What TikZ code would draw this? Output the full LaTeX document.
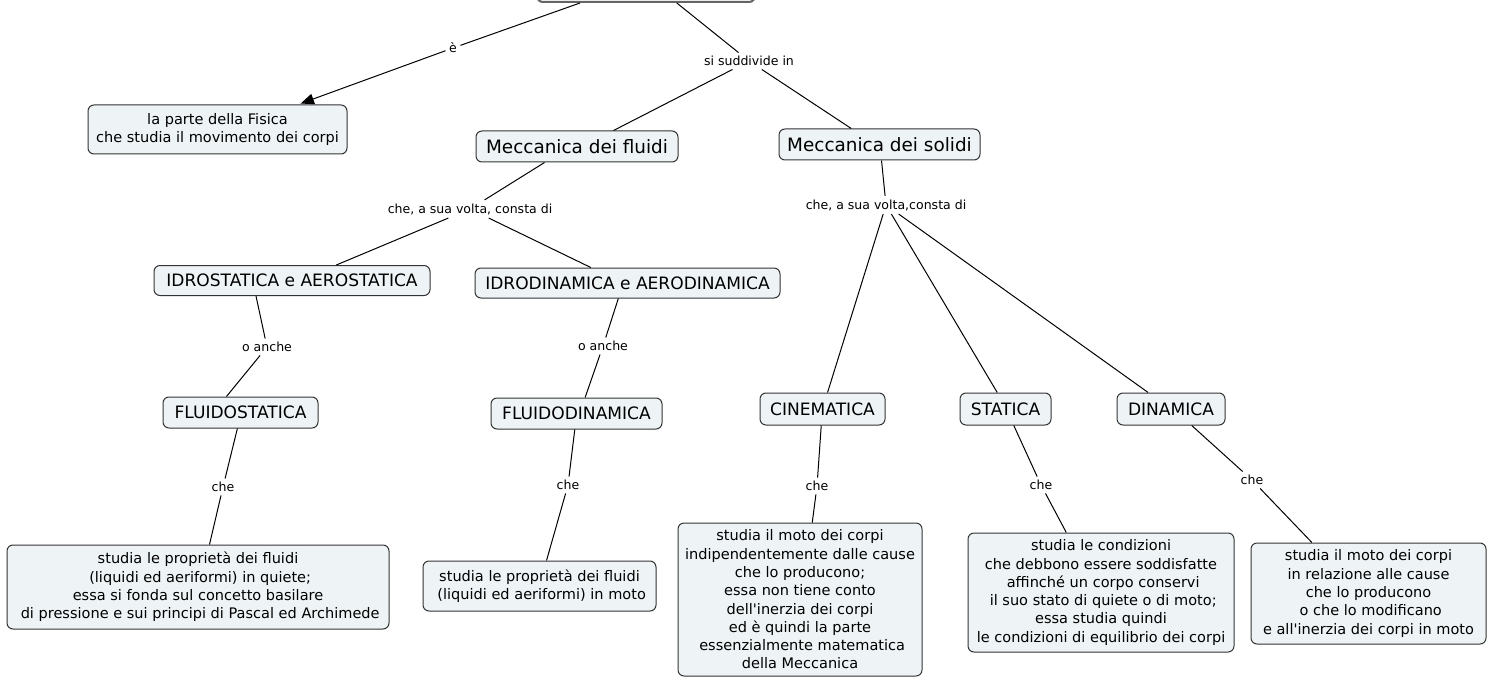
\documentclass[tikz,border=0pt]{standalone}
\usepackage{fontspec}
\setmainfont{DejaVu Sans}[Ligatures=TeXOff]
\usetikzlibrary{calc,arrows.meta}
\definecolor{boxfill}{RGB}{238,244,246}
\definecolor{boxline}{RGB}{51,51,51}
\definecolor{topline}{RGB}{100,100,100}
\begin{document}
\begin{tikzpicture}[x=0.75pt,y=-0.75pt,
 box/.style={draw=boxline,fill=boxfill,rounded corners=4.5pt,line width=0.75pt,align=center,inner sep=0pt},
 txtbox/.style={box,font=\fontsize{10.9}{13.7}\selectfont},
 capbox/.style={box,font=\fontsize{12.8}{15}\selectfont},
 bigbox/.style={box,font=\fontsize{13.8}{16}\selectfont},
 lab/.style={font=\fontsize{9.4}{11}\selectfont,inner sep=2.5pt},
 conn/.style={draw=black,line width=0.75pt}]
\useasboundingbox (0,0) rectangle (1494,677);

% top (cut off) node
\node[draw=topline,line width=1.5pt,fill=white,rounded corners=4.5pt,minimum width=163.5pt,minimum height=30pt,inner sep=0pt] (top) at (646,-18) {};

% concept boxes
\node[txtbox,minimum width=194.25pt,minimum height=36.75pt] (lapart) at (217.5,129.5) {la parte della Fisica\\che studia il movimento dei corpi};
\node[bigbox,minimum width=151.5pt,minimum height=23.25pt] (mf) at (577,146.5) {Meccanica dei fluidi};
\node[bigbox,minimum width=150.75pt,minimum height=23.25pt] (ms) at (879.5,144.5) {Meccanica dei solidi};
\node[capbox,minimum width=207pt,minimum height=22.5pt] (idro) at (292,280.5) {IDROSTATICA e AEROSTATICA};
\node[capbox,minimum width=228.75pt,minimum height=22.5pt] (idrod) at (627.5,283) {IDRODINAMICA e AERODINAMICA};
\node[capbox,minimum width=116.25pt,minimum height=23.25pt] (fls) at (240.5,412.5) {FLUIDOSTATICA};
\node[capbox,minimum width=128.25pt,minimum height=23.25pt] (fld) at (576.5,413.5) {FLUIDODINAMICA};
\node[capbox,minimum width=93.75pt,minimum height=24pt] (cin) at (822.5,409) {CINEMATICA};
\node[capbox,minimum width=68.25pt,minimum height=24pt] (stat) at (1005.5,409) {STATICA};
\node[capbox,minimum width=81pt,minimum height=24pt] (din) at (1171,409) {DINAMICA};

\node[txtbox,minimum width=286.5pt,minimum height=63pt] (fst) at (198,587) {studia le proprietà dei fluidi\\\hspace*{0.3em}(liquidi ed aeriformi) in quiete;\\essa si fonda sul concetto basilare\\\hspace*{0.3em}di pressione e sui principi di Pascal ed Archimede};
\node[txtbox,minimum width=174.75pt,minimum height=37.5pt] (fdt) at (539.5,586) {studia le proprietà dei fluidi\\\hspace*{0.3em}(liquidi ed aeriformi) in moto};
\node[txtbox,minimum width=183pt,minimum height=114.75pt] (ct) at (800,599.5) {studia il moto dei corpi\\indipendentemente dalle cause\\che lo producono;\\essa non tiene conto\\dell'inerzia dei corpi\\ed è quindi la parte\\\hspace*{0.3em}essenzialmente matematica\\della Meccanica};
\node[txtbox,minimum width=199.5pt,minimum height=89.25pt] (st) at (1101,592.5) {studia le condizioni\\che debbono essere soddisfatte\\\hspace*{0.3em}affinché un corpo conservi\\\hspace*{0.3em}il suo stato di quiete o di moto;\\essa studia quindi\\le condizioni di equilibrio dei corpi};
\node[txtbox,minimum width=176.25pt,minimum height=75.75pt] (dt) at (1368.5,593.5) {studia il moto dei corpi\\in relazione alle cause\\che lo producono\\\hspace*{0.3em}o che lo modificano\\e all'inerzia dei corpi in moto};

% linking phrases
\node[lab] (e) at (453,48) {è};
\node[lab] (si) at (749,61) {si suddivide in};
\node[lab] (cf) at (470,209) {che, a sua volta, consta di};
\node[lab] (cs) at (886,205) {che, a sua volta,consta di};
\node[lab] (oa1) at (267,347) {o anche};
\node[lab] (oa2) at (603,346) {o anche};
\node[lab] (c1) at (223,487) {che};
\node[lab] (c2) at (568,485) {che};
\node[lab] (c3) at (817,486) {che};
\node[lab] (c4) at (1041,485) {che};
\node[lab] (c5) at (1252,480) {che};

% attachment points
\coordinate (t1) at ($(top.south west)!0.2!(top.south east)$);
\coordinate (t2) at ($(top.south west)!0.64!(top.south east)$);
\coordinate (lp) at ($(lapart.north west)!0.81!(lapart.north east)$);
\coordinate (mfn) at ($(mf.north west)!0.68!(mf.north east)$);
\coordinate (msn) at ($(ms.north west)!0.36!(ms.north east)$);
\coordinate (mfs) at ($(mf.south west)!0.34!(mf.south east)$);
\coordinate (idn) at ($(idro.north west)!0.66!(idro.north east)$);
\coordinate (iddn) at ($(idrod.north west)!0.38!(idrod.north east)$);
\coordinate (mss) at ($(ms.south west)!0.51!(ms.south east)$);
\coordinate (cinn) at ($(cin.north west)!0.54!(cin.north east)$);
\coordinate (statn) at ($(stat.north west)!0.41!(stat.north east)$);
\coordinate (dinn) at ($(din.north west)!0.29!(din.north east)$);
\coordinate (ids) at ($(idro.south west)!0.37!(idro.south east)$);
\coordinate (flsn) at ($(fls.north west)!0.41!(fls.north east)$);
\coordinate (idds) at ($(idrod.south west)!0.47!(idrod.south east)$);
\coordinate (fldn) at ($(fld.north west)!0.55!(fld.north east)$);
\coordinate (flss) at ($(fls.south west)!0.48!(fls.south east)$);
\coordinate (fstn) at ($(fst.north west)!0.53!(fst.north east)$);
\coordinate (flds) at ($(fld.south west)!0.49!(fld.south east)$);
\coordinate (fdtn) at ($(fdt.north west)!0.53!(fdt.north east)$);
\coordinate (cins) at ($(cin.south west)!0.49!(cin.south east)$);
\coordinate (ctn) at ($(ct.north west)!0.55!(ct.north east)$);
\coordinate (stats) at ($(stat.south west)!0.59!(stat.south east)$);
\coordinate (stn) at ($(st.north west)!0.37!(st.north east)$);
\coordinate (dins) at ($(din.south west)!0.69!(din.south east)$);
\coordinate (dtn) at ($(dt.north west)!0.26!(dt.north east)$);

% connectors
\draw[conn] (t1) -- (e);
\draw[conn,-{Triangle[length=10pt,width=8pt]},shorten >=2pt] (e) -- (lp);
\draw[conn] (t2) -- (si);
\draw[conn] (si) -- (mfn);
\draw[conn] (si) -- (msn);
\draw[conn] (mfs) -- (cf);
\draw[conn] (cf) -- (idn);
\draw[conn] (cf) -- (iddn);
\draw[conn] (mss) -- (cs);
\draw[conn] (cs) -- (cinn);
\draw[conn] (cs) -- (statn);
\draw[conn] (cs) -- (dinn);
\draw[conn] (ids) -- (oa1);
\draw[conn] (oa1) -- (flsn);
\draw[conn] (idds) -- (oa2);
\draw[conn] (oa2) -- (fldn);
\draw[conn] (flss) -- (c1);
\draw[conn] (c1) -- (fstn);
\draw[conn] (flds) -- (c2);
\draw[conn] (c2) -- (fdtn);
\draw[conn] (cins) -- (c3);
\draw[conn] (c3) -- (ctn);
\draw[conn] (stats) -- (c4);
\draw[conn] (c4) -- (stn);
\draw[conn] (dins) -- (c5);
\draw[conn] (c5) -- (dtn);
\end{tikzpicture}
\end{document}
